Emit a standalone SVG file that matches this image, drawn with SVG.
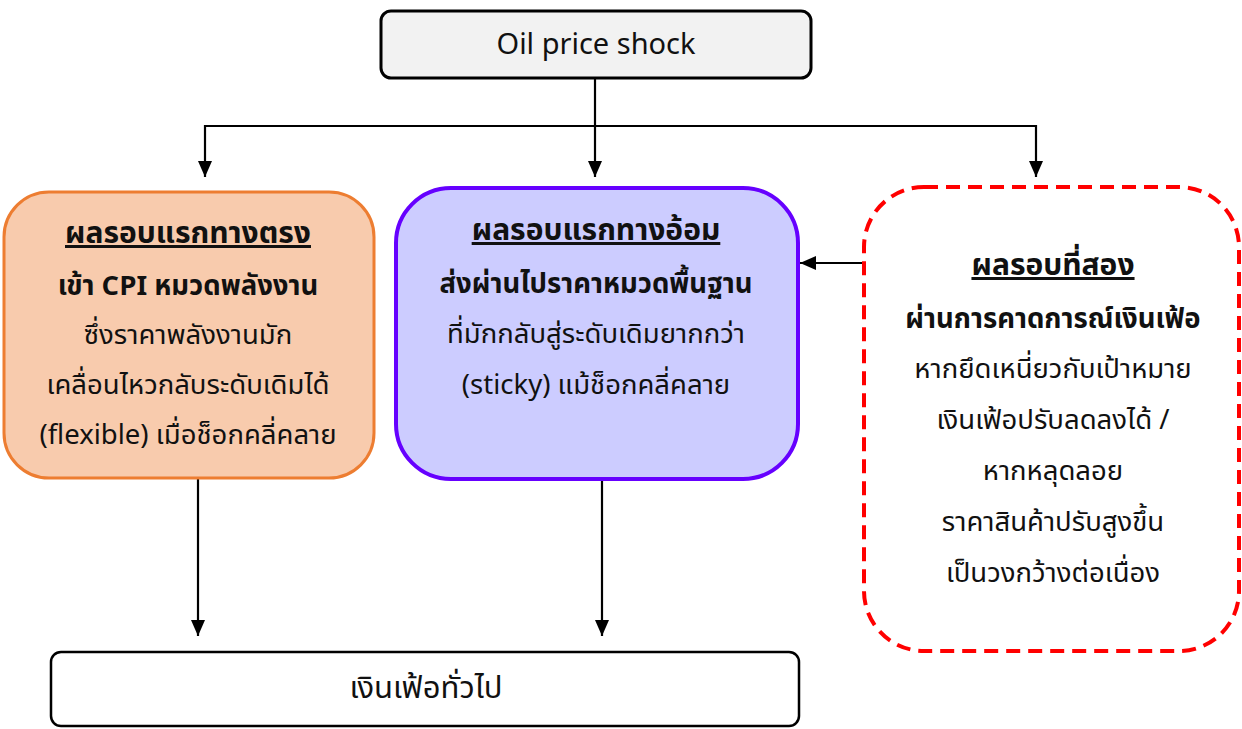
<svg xmlns="http://www.w3.org/2000/svg" width="1242" height="729" viewBox="0 0 1242 729">
<defs>
<marker id="ah" markerWidth="16" markerHeight="14" refX="16" refY="7" orient="auto" markerUnits="userSpaceOnUse" viewBox="0 0 16 14"><path d="M0,0 L16,7 L0,14 z" fill="#000"/></marker>
<style>
text{font-family:"Noto Sans Thai","Noto Sans","DejaVu Sans",sans-serif;fill:#111;text-anchor:middle}
.t{font-size:30px;font-weight:bold;text-decoration:underline}
.b{font-size:27.5px;font-weight:bold}
.r{font-size:27.5px}
.c{fill:none;stroke:#000;stroke-width:2.2}
</style>
</defs>
<g id="connectors">
<line class="c" x1="595" y1="78" x2="595" y2="177" marker-end="url(#ah)"/>
<line class="c" x1="204" y1="126" x2="1037" y2="126"/>
<line class="c" x1="205" y1="125" x2="205" y2="177" marker-end="url(#ah)"/>
<line class="c" x1="1036" y1="125" x2="1036" y2="177" marker-end="url(#ah)"/>
<line class="c" x1="863" y1="263" x2="800" y2="263" marker-end="url(#ah)"/>
<line class="c" x1="198" y1="478" x2="198" y2="636" marker-end="url(#ah)"/>
<line class="c" x1="602" y1="480" x2="602" y2="636" marker-end="url(#ah)"/>
</g>
<g id="oil">
<rect x="381" y="11" width="430" height="67" rx="10" fill="#f2f2f2" stroke="#000" stroke-width="3"/>
<text x="596" y="54" style="font-size:29px">Oil price shock</text>
</g>
<g id="direct">
<rect x="4" y="192" width="370" height="286" rx="45" fill="#f8cbad" stroke="#ed7d31" stroke-width="3"/>
<text class="t" x="188" y="243">ผลรอบแรกทางตรง</text>
<text class="b" x="188" y="295">เข้า CPI หมวดพลังงาน</text>
<text class="r" x="188" y="344">ซึ่งราคาพลังงานมัก</text>
<text class="r" x="188" y="394">เคลื่อนไหวกลับระดับเดิมได้</text>
<text class="r" x="188" y="444">(flexible) เมื่อช็อกคลี่คลาย</text>
</g>
<g id="indirect">
<rect x="396" y="188" width="402" height="291" rx="55" fill="#ccccff" stroke="#6600ff" stroke-width="4"/>
<text class="t" x="596" y="240">ผลรอบแรกทางอ้อม</text>
<text class="b" x="596" y="293">ส่งผ่านไปราคาหมวดพื้นฐาน</text>
<text class="r" x="596" y="343">ที่มักกลับสู่ระดับเดิมยากกว่า</text>
<text class="r" x="596" y="394">(sticky) แม้ช็อกคลี่คลาย</text>
</g>
<g id="second">
<rect x="864" y="187" width="375" height="464" rx="60" fill="#fff" stroke="#ff0000" stroke-width="4" stroke-dasharray="14,8"/>
<text class="t" x="1053" y="275">ผลรอบที่สอง</text>
<text class="b" x="1053" y="328">ผ่านการคาดการณ์เงินเฟ้อ</text>
<text class="r" x="1053" y="378">หากยึดเหนี่ยวกับเป้าหมาย</text>
<text class="r" x="1053" y="429">เงินเฟ้อปรับลดลงได้ /</text>
<text class="r" x="1053" y="480">หากหลุดลอย</text>
<text class="r" x="1053" y="531">ราคาสินค้าปรับสูงขึ้น</text>
<text class="r" x="1053" y="582">เป็นวงกว้างต่อเนื่อง</text>
</g>
<g id="general">
<rect x="51" y="652" width="748" height="74" rx="10" fill="#fff" stroke="#000" stroke-width="2.5"/>
<text class="r" x="426" y="698" style="font-size:31px">เงินเฟ้อทั่วไป</text>
</g>
</svg>
